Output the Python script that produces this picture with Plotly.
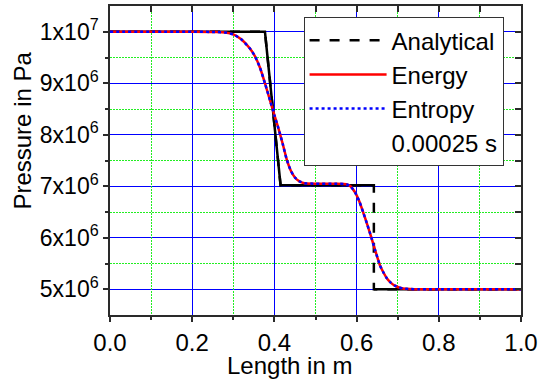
import plotly.graph_objects as go

# ---- data ----
x_analytical = [0.0, 0.377, 0.415, 0.642, 0.642, 1.0]
p_analytical = [1.0e7, 1.0e7, 7.02e6, 7.02e6, 5.0e6, 5.0e6]
shock_index = 4  # dashed jump between index 3 and 4

x_num = [0.0, 0.20, 0.26, 0.28, 0.30, 0.32, 0.34, 0.353, 0.365, 0.377, 0.39, 0.40,
         0.41, 0.42, 0.43, 0.44, 0.45, 0.46, 0.473, 0.50, 0.55, 0.575, 0.585,
         0.597, 0.607, 0.617, 0.625, 0.633, 0.645, 0.657, 0.665, 0.673, 0.683,
         0.693, 0.703, 0.713, 0.73, 0.75, 1.0]
p_energy = [1.0e7, 1.0e7, 9.995e6, 9.985e6, 9.95e6, 9.85e6, 9.68e6, 9.52e6, 9.3e6,
            9.0e6, 8.65e6, 8.38e6, 8.12e6, 7.83e6, 7.52e6, 7.3e6, 7.17e6, 7.1e6,
            7.06e6, 7.05e6, 7.05e6, 7.04e6, 7.0e6, 6.87e6, 6.7e6, 6.47e6, 6.28e6,
            6.08e6, 5.76e6, 5.46e6, 5.33e6, 5.22e6, 5.13e6, 5.07e6, 5.035e6,
            5.015e6, 5.005e6, 5.0e6, 5.0e6]
p_entropy = list(p_energy)

y_tickvals = [5e6, 6e6, 7e6, 8e6, 9e6, 1e7]
y_ticktext = ["5x10<sup>6</sup>", "6x10<sup>6</sup>", "7x10<sup>6</sup>",
              "8x10<sup>6</sup>", "9x10<sup>6</sup>", "1x10<sup>7</sup>"]
y_minorvals = [5.5e6, 6.5e6, 7.5e6, 8.5e6, 9.5e6]
x_tickvals = [0.0, 0.2, 0.4, 0.6, 0.8, 1.0]
x_ticktext = ["0.0", "0.2", "0.4", "0.6", "0.8", "1.0"]
x_minorvals = [0.1, 0.3, 0.5, 0.7, 0.9]

XR = [0, 1]
YR = [4.5e6, 1.05e7]

FONT = "Liberation Sans, Arial, Helvetica, sans-serif"
GREEN = "#22ee22"
AXC = "#2a2a2a"

# solid parts of analytical (without the shock jump)
xs_solid = x_analytical[:shock_index] + [None] + x_analytical[shock_index:]
ps_solid = p_analytical[:shock_index] + [None] + p_analytical[shock_index:]

fig = go.Figure()
# invisible traces to activate helper axes
fig.add_trace(go.Scatter(x=[None], y=[None], xaxis="x3", yaxis="y3",
                         showlegend=False, hoverinfo="skip"))
fig.add_trace(go.Scatter(x=[None], y=[None], xaxis="x2", yaxis="y2",
                         showlegend=False, hoverinfo="skip"))

fig.add_trace(go.Scatter(x=xs_solid, y=ps_solid, mode="lines",
                         line=dict(color="black", width=2.5),
                         showlegend=False, hoverinfo="skip"))
fig.add_trace(go.Scatter(x=x_analytical, y=p_analytical, mode="lines",
                         name="Analytical",
                         line=dict(color="black", width=2.5, dash="10px,10px")))
fig.add_trace(go.Scatter(x=x_num, y=p_energy, mode="lines", name="Energy",
                         line=dict(color="#ff0000", width=2.5, shape="spline",
                                   smoothing=0.5)))
fig.add_trace(go.Scatter(x=x_num, y=p_entropy, mode="lines", name="Entropy",
                         line=dict(color="#0000ff", width=2.5, dash="dot",
                                   shape="spline", smoothing=0.5)))
fig.add_trace(go.Scatter(x=[None], y=[None], mode="lines", name="0.00025 s",
                         line=dict(color="rgba(0,0,0,0)", width=1)))

axis_common = dict(showline=True, linecolor=AXC, linewidth=1.5, zeroline=False)

fig.update_layout(
    width=544, height=379,
    margin=dict(l=110, r=18, t=6, b=64),
    paper_bgcolor="white", plot_bgcolor="white",
    font=dict(family=FONT, size=24, color="black"),
    xaxis=dict(range=XR, tickmode="array", tickvals=x_tickvals,
               ticktext=x_ticktext, ticks="outside", ticklen=5,
               tickcolor=AXC, tickwidth=1.5,
               showgrid=True, gridcolor="#0000ff", gridwidth=1,
               minor=dict(tickmode="array", tickvals=x_minorvals,
                          ticks="outside", ticklen=3, tickcolor=AXC,
                          showgrid=False),
               tickfont=dict(size=24), **axis_common),
    yaxis=dict(range=YR, tickmode="array", tickvals=y_tickvals,
               ticktext=y_ticktext, ticks="outside", ticklen=5,
               tickcolor=AXC, tickwidth=1.5,
               showgrid=True, gridcolor="#0000ff", gridwidth=1,
               minor=dict(tickmode="array", tickvals=y_minorvals,
                          ticks="outside", ticklen=3, tickcolor=AXC,
                          showgrid=False),
               tickfont=dict(size=23), **axis_common),
    # helper axes: dotted green minor grid
    xaxis3=dict(range=XR, overlaying="x", tickmode="array",
                tickvals=x_minorvals, showticklabels=False, ticks="",
                showgrid=True, gridcolor=GREEN, griddash="2px,1px",
                gridwidth=1, showline=False, zeroline=False),
    yaxis3=dict(range=YR, overlaying="y", tickmode="array",
                tickvals=y_minorvals, showticklabels=False, ticks="",
                showgrid=True, gridcolor=GREEN, griddash="2px,1px",
                gridwidth=1, showline=False, zeroline=False),
    # helper axes: inside ticks on top/right
    xaxis2=dict(range=XR, overlaying="x", side="top", tickmode="array",
                tickvals=x_tickvals + x_minorvals, showticklabels=False,
                ticks="inside", ticklen=6, tickcolor=AXC, tickwidth=1.5,
                showgrid=False, **axis_common),
    yaxis2=dict(range=YR, overlaying="y", side="right",
                tickmode="array", tickvals=y_tickvals + y_minorvals,
                showticklabels=False, ticks="inside", ticklen=6,
                tickcolor=AXC, tickwidth=1.5, showgrid=False, **axis_common),
    legend=dict(x=0.471, y=0.964, xanchor="left", yanchor="top",
                bgcolor="white", bordercolor="#333333", borderwidth=1,
                font=dict(size=24), itemwidth=77, tracegroupgap=0),
    annotations=[
        dict(text="Pressure in Pa", xref="paper", yref="paper",
             x=-0.214, y=0.597, xanchor="center", yanchor="middle",
             textangle=-90, showarrow=False, font=dict(size=24)),
        dict(text="Length in m", xref="paper", yref="paper",
             x=0.4375, y=-0.162, xanchor="center", yanchor="middle",
             showarrow=False, font=dict(size=24)),
    ],
)

fig.write_html("out.html")
